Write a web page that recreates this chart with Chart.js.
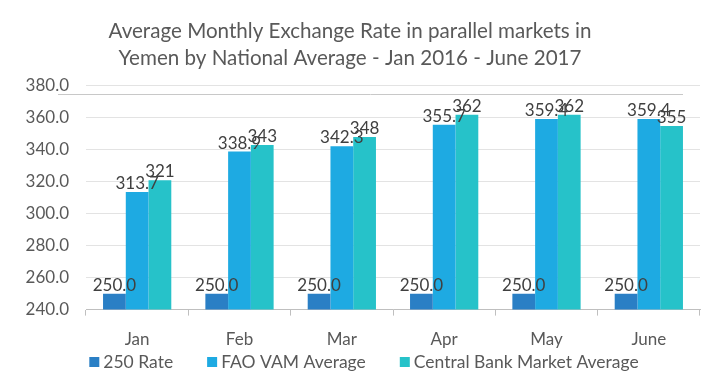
<!DOCTYPE html>
<html>
<head>
<meta charset="utf-8">
<script src="https://cdn.jsdelivr.net/npm/chart.js@4"></script>
<style>
  html, body { margin: 0; padding: 0; background: #fff; }
  #wrap { width: 720px; height: 377px; }
</style>
</head>
<body>
<div id="wrap"><canvas id="c" width="720" height="377"></canvas></div>
<script>
// Exchange rates by month, three series
const MONTHS = ["Jan", "Feb", "Mar", "Apr", "May", "June"];
const RATE_250 = [250, 250, 250, 250, 250, 250];
const FAO_VAM = [313.7, 338.9, 342.3, 355.7, 359.4, 359.4];
const CENTRAL_BANK = [321, 343, 348, 362, 362, 355];
const Y_TICKS = [240, 260, 280, 300, 320, 340, 360, 380];

const FONT = "Lato, 'Open Sans', sans-serif";
const TXT = "#595959";

// value labels above each bar
const barLabels = {
  id: "barLabels",
  afterDatasetsDraw(chart) {
    const ctx = chart.ctx;
    ctx.save();
    ctx.font = "17px " + FONT;
    ctx.fillStyle = "#404040";
    ctx.textAlign = "center";
    ctx.textBaseline = "bottom";
    chart.data.datasets.forEach((ds, i) => {
      chart.getDatasetMeta(i).data.forEach((bar, j) => {
        const v = ds.data[j];
        const txt = ds.fmt === "int" ? String(v) : v.toFixed(1);
        ctx.fillText(txt, bar.x, bar.y);
      });
    });
    ctx.restore();
  },
};

// faint rule under the title, as in the source picture
const titleRule = {
  id: "titleRule",
  beforeDatasetsDraw(chart) {
    const ctx = chart.ctx;
    const y = Math.round(chart.scales.y.getPixelForValue(380)) + 8;
    ctx.save();
    ctx.strokeStyle = "#c8c8c8";
    ctx.lineWidth = 1;
    ctx.beginPath();
    ctx.moveTo(58, y + 0.5);
    ctx.lineTo(683, y + 0.5);
    ctx.stroke();
    ctx.restore();
  },
};

// legend row at the bottom (own drawing so spacing can match)
const bottomLegend = {
  id: "bottomLegend",
  afterDraw(chart) {
    const ctx = chart.ctx;
    const box = 10, gapText = 4, gapItem = 34, y = 362;
    ctx.save();
    ctx.font = "17.5px " + FONT;
    ctx.textBaseline = "middle";
    const items = chart.data.datasets.map((ds) => ({ text: ds.label, color: ds.backgroundColor, w: ctx.measureText(ds.label).width }));
    const total = items.reduce((a, it) => a + box + gapText + it.w, 0) + gapItem * (items.length - 1);
    let x = (chart.width - total) / 2 + 4;
    items.forEach((it) => {
      ctx.fillStyle = it.color;
      ctx.fillRect(x, y - box / 2, box, box);
      x += box + gapText;
      ctx.fillStyle = TXT;
      ctx.fillText(it.text, x, y);
      x += it.w + gapItem;
    });
    ctx.restore();
  },
};

new Chart(document.getElementById("c"), {
  type: "bar",
  data: {
    labels: MONTHS,
    datasets: [
      { label: "250 Rate", data: RATE_250, backgroundColor: "#2a7fc5", fmt: "dec" },
      { label: "FAO VAM Average", data: FAO_VAM, backgroundColor: "#1eaae2", fmt: "dec" },
      { label: "Central Bank Market Average", data: CENTRAL_BANK, backgroundColor: "#26c2c9", fmt: "int" },
    ],
  },
  options: {
    responsive: false,
    animation: false,
    layout: { padding: { left: 0, right: 20, top: 0, bottom: 13 } },
    datasets: { bar: { barPercentage: 1, categoryPercentage: 0.667 } },
    plugins: {
      title: {
        display: true,
        text: ["Average Monthly Exchange Rate in parallel markets in", "Yemen by National Average - Jan 2016 - June 2017"],
        color: TXT,
        font: { family: FONT, size: 20.6, weight: "normal", lineHeight: 1.31 },
        padding: { top: 18, bottom: 14 },
      },
      legend: { display: false },
      tooltip: { enabled: false },
    },
    scales: {
      x: {
        grid: { drawOnChartArea: false, tickLength: 6, color: "#bfbfbf" },
        border: { color: "#bfbfbf" },
        ticks: { color: TXT, font: { family: FONT, size: 17 }, padding: 14 },
      },
      y: {
        min: 240,
        max: 380,
        afterBuildTicks: (s) => { s.ticks = Y_TICKS.map((v) => ({ value: v })); },
        afterFit: (s) => { s.width = 86; },
        grid: { color: "#e3e3e3", drawTicks: false },
        border: { display: false },
        ticks: {
          color: TXT,
          font: { family: FONT, size: 17 },
          padding: 17,
          callback: (v) => Number(v).toFixed(1),
        },
      },
    },
  },
  plugins: [barLabels, titleRule, bottomLegend],
});
</script>
</body>
</html>
